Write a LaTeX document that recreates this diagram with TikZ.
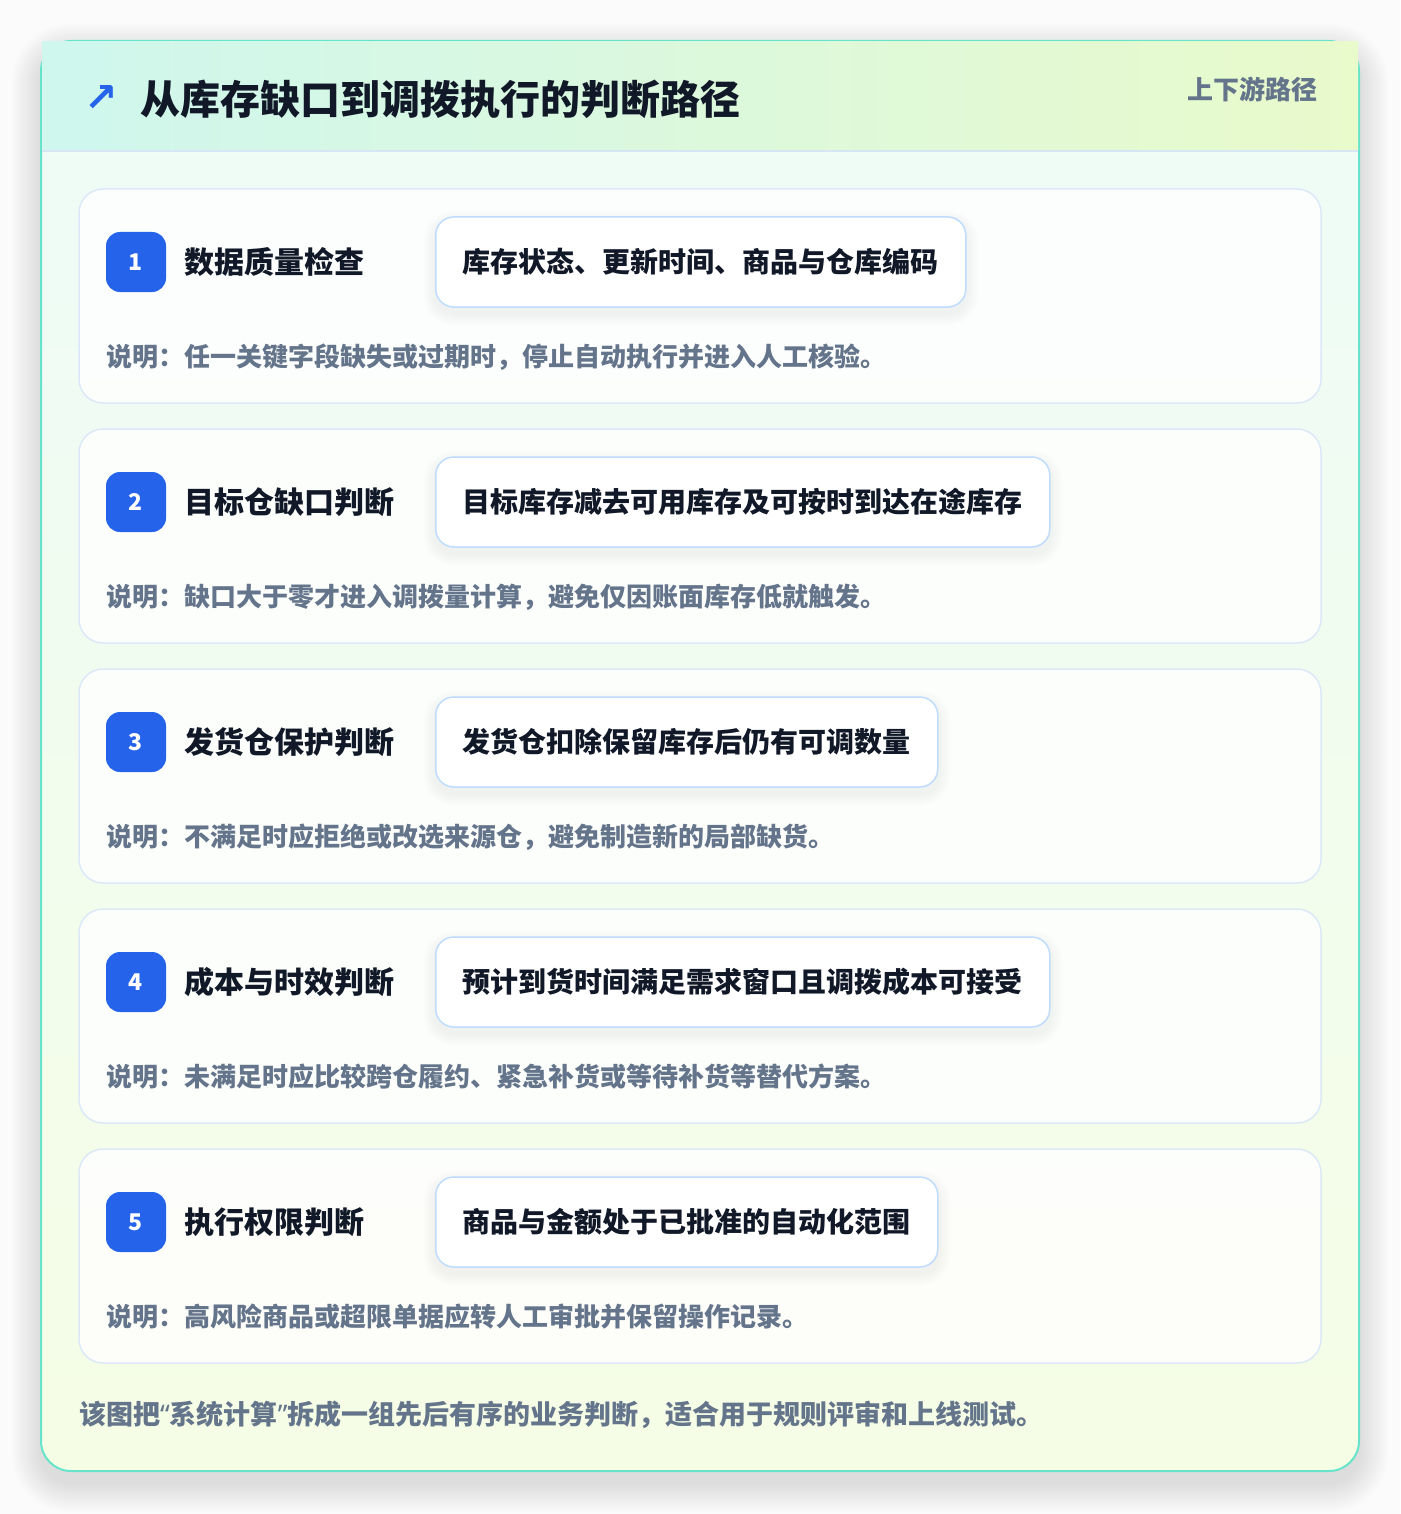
\documentclass[tikz,border=0pt]{standalone}
\usepackage{fontspec}
\setmainfont{Noto Sans CJK SC}
\newfontfamily\symfont{DejaVu Sans}
\newfontfamily\latinfont{Noto Sans}
\definecolor{pagebg}{HTML}{FBFBFC}
\definecolor{cardline}{HTML}{67E3CC}
\definecolor{headl}{HTML}{CFF7EE}
\definecolor{headr}{HTML}{E9FACB}
\definecolor{headline}{HTML}{D6E6F4}
\definecolor{bodyt}{HTML}{EEFCF8}
\definecolor{bodyb}{HTML}{F5FDE5}
\definecolor{stepline}{HTML}{DCE8F8}
\definecolor{badge}{HTML}{2563EB}
\definecolor{detline}{HTML}{BFDBFE}
\definecolor{ink}{HTML}{111827}
\definecolor{muted}{HTML}{64748B}
\pgfdeclarelayer{back}
\pgfdeclarelayer{cards}
\pgfdeclarelayer{dshadow}
\pgfsetlayers{back,cards,dshadow,main}
\tikzset{
  maincard/.style={draw=cardline, line width=2pt, rounded corners=30pt, minimum width=1318, minimum height=1430, inner sep=0pt,
    top color=bodyt, bottom color=bodyb},
  stepcard/.style={draw=stepline, line width=1.5pt, rounded corners=24pt, fill=white, fill opacity=0.82, minimum width=1242, minimum height=214, inner sep=0pt},
  badgebox/.style={fill=badge, rounded corners=14pt, minimum width=60, minimum height=60, inner sep=0pt, text=white, font=\fontsize{23}{26}\selectfont\bfseries},
  steptitle/.style={anchor=west, inner sep=0pt, text=ink, font=\fontsize{30}{36}\selectfont\bfseries},
  detbox/.style={anchor=west, draw=detline, line width=1.5pt, rounded corners=18pt, fill=white, minimum height=90, inner xsep=27pt, inner ysep=0pt, text=ink, font=\fontsize{28}{34}\selectfont\bfseries},
  desc/.style={anchor=west, inner sep=0pt, text=muted, font=\fontsize{26}{32}\selectfont\bfseries},
  softlayer/.style={fill=black, opacity=#1},
}
\begin{document}
\begin{tikzpicture}[x=1pt,y=-1pt]
\begin{pgfonlayer}{back}
\fill[pagebg] (0,0) rectangle (1400,1514);
% soft shadow of the main card
\foreach \k in {1,...,30}{
  \pgfmathsetmacro{\rr}{30+\k}
  \fill[softlayer=0.003, rounded corners=\rr pt] (41-\k,41-\k+12) rectangle (1359+\k,1471+\k+12);
}
\end{pgfonlayer}
\useasboundingbox (0,0) rectangle (1400,1514);
\begin{pgfonlayer}{back}
\node[maincard] (card) at (700,756) {};
% header band
\shade[left color=headl, right color=headr] (42,42) rectangle (1358,151);
\draw[headline, line width=1.5pt] (42,151) -- (1358,151);
\end{pgfonlayer}
\node[anchor=west, inner sep=0pt, text=badge, font=\symfont\fontsize{40}{44}\selectfont\bfseries] (icon) at (84,99) {↗};
\node[anchor=west, inner sep=0pt, text=ink, font=\fontsize{40}{46}\selectfont\bfseries] (title) at (140,99) {从库存缺口到调拨执行的判断路径};
\node[anchor=east, inner sep=0pt, text=muted, font=\fontsize{26}{30}\selectfont\bfseries] (tag) at (1318,89) {上下游路径};
% steps
\foreach \i/\t/\d/\s in {
  1/数据质量检查/库存状态、更新时间、商品与仓库编码/说明：任一关键字段缺失或过期时，停止自动执行并进入人工核验。,
  2/目标仓缺口判断/目标库存减去可用库存及可按时到达在途库存/说明：缺口大于零才进入调拨量计算，避免仅因账面库存低就触发。,
  3/发货仓保护判断/发货仓扣除保留库存后仍有可调数量/说明：不满足时应拒绝或改选来源仓，避免制造新的局部缺货。,
  4/成本与时效判断/预计到货时间满足需求窗口且调拨成本可接受/说明：未满足时应比较跨仓履约、紧急补货或等待补货等替代方案。,
  5/执行权限判断/商品与金额处于已批准的自动化范围/说明：高风险商品或超限单据应转人工审批并保留操作记录。}{
  \pgfmathsetmacro{\top}{189+240*(\i-1)}
  \begin{pgfonlayer}{cards}
  \node[stepcard] (step\i) at (700,\top+107) {};
  \end{pgfonlayer}
  \node[badgebox] (badge\i) at (136,\top+73) {\i};
  \node[steptitle] (name\i) at (184,\top+73) {\t};
  \node[detbox] (det\i) at (435,\top+73) {\d};
  \node[desc] (desc\i) at (106,\top+168) {\s};
  \begin{pgfonlayer}{dshadow}
  \foreach \k in {1,...,12}{
    \pgfmathsetmacro{\rr}{18+\k}
    \fill[softlayer=0.005, rounded corners=\rr pt] ([xshift=-\k pt, yshift=\k pt-6pt]det\i.north west) rectangle ([xshift=\k pt, yshift=-\k pt-6pt]det\i.south east);
  }
  \end{pgfonlayer}
}
% footer
\node[anchor=west, inner sep=0pt, text=muted, font=\fontsize{27}{32}\selectfont\bfseries] (foot) at (79,1415) {该图把{\latinfont“}系统计算{\latinfont”}拆成一组先后有序的业务判断，适合用于规则评审和上线测试。};
\end{tikzpicture}
\end{document}
